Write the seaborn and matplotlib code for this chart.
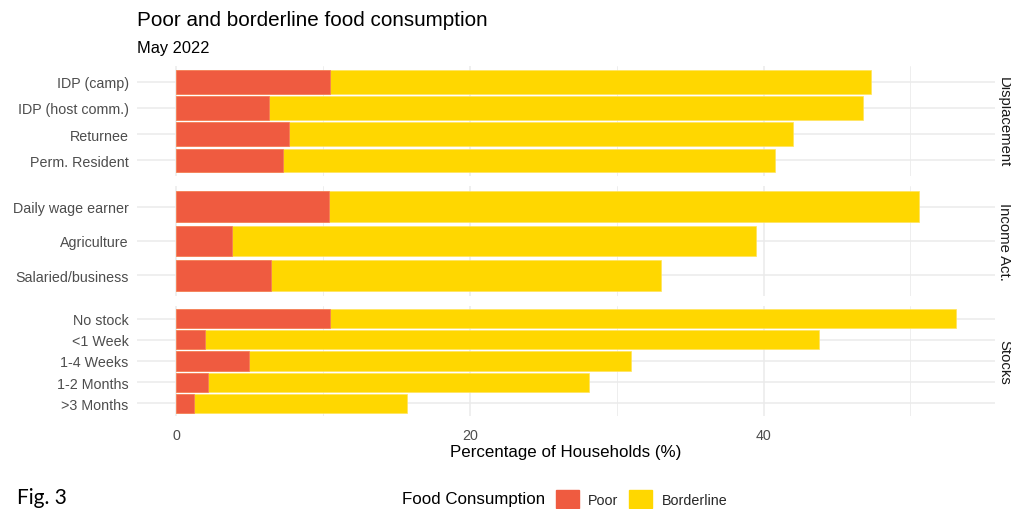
import matplotlib
matplotlib.use('Agg')
import matplotlib.pyplot as plt
import seaborn as sns
import pandas as pd
from matplotlib.patches import Patch

# data (percent of households)
groups = ['Displacement', 'Income Act.', 'Stocks']

displacement = ['IDP (camp)', 'IDP (host comm.)', 'Returnee', 'Perm. Resident']
poor_displacement = [10.5, 6.3, 7.7, 7.3]
border_displacement = [36.8, 40.5, 34.3, 33.5]

income = ['Daily wage earner', 'Agriculture', 'Salaried/business']
poor_income = [10.4, 3.8, 6.5]
border_income = [40.2, 35.7, 26.5]

stocks = ['No stock', '<1 Week', '1-4 Weeks', '1-2 Months', '>3 Months']
poor_stocks = [10.5, 2.0, 5.0, 2.2, 1.2]
border_stocks = [42.6, 41.8, 26.0, 25.9, 14.5]

poor_col = '#EF5B40'
border_col = '#FFD700'

frames = []
for g, cats, p, b in zip(groups, [displacement, income, stocks],
                         [poor_displacement, poor_income, poor_stocks],
                         [border_displacement, border_income, border_stocks]):
    frames.append(pd.DataFrame({'group': g, 'category': cats, 'poor': p, 'borderline': b}))
df = pd.concat(frames, ignore_index=True)
df['total'] = df['poor'] + df['borderline']

sns.set_style('white')
plt.rcParams['font.family'] = ['Liberation Sans', 'DejaVu Sans']

fig = plt.figure(figsize=(10.11, 5.10), dpi=100)
W, H = 1011, 510
left, right = 137 / W, 995 / W
panels = [(67, 177), (187, 297), (307, 417)]

xmax = df['total'].max()
pad = xmax * 0.05

axes = []
for (top, bot), g in zip(panels, groups):
    ax = fig.add_axes([left, 1 - bot / H, right - left, (bot - top) / H])
    sub = df[df['group'] == g]
    n = len(sub)
    sns.barplot(data=sub, x='total', y='category', color=border_col, width=0.9,
                saturation=1, errorbar=None, orient='h', ax=ax,
                edgecolor='#FFE45C', linewidth=0.5)
    sns.barplot(data=sub, x='poor', y='category', color=poor_col, width=0.9,
                saturation=1, errorbar=None, orient='h', ax=ax,
                edgecolor='#F47A64', linewidth=0.5)
    ax.set_xlim(-pad, xmax + pad)
    ax.set_ylim(n - 1 + 0.6, -0.6)
    ax.set_xticks([0, 20, 40])
    ax.set_xticks([10, 30, 50], minor=True)
    ax.set_axisbelow(True)
    ax.grid(True, which='major', color='#EBEBEB', linewidth=1.1)
    ax.grid(True, which='minor', axis='x', color='#EBEBEB', linewidth=0.6)
    for s in ax.spines.values():
        s.set_visible(False)
    ax.tick_params(axis='both', which='both', length=0, labelsize=10.3,
                   labelcolor='#4D4D4D')
    ax.tick_params(axis='y', pad=6)
    ax.tick_params(axis='x', pad=9)
    ax.set_xlabel('')
    ax.set_ylabel('')
    ax.text(1.0105, 0.5, g, transform=ax.transAxes, rotation=-90,
            ha='center', va='center', fontsize=10.7, color='#1A1A1A')
    axes.append(ax)

for ax in axes[:-1]:
    ax.tick_params(axis='x', labelbottom=False)

fig.text(566 / W, 1 - 453 / H, 'Percentage of Households (%)', ha='center',
         va='center', fontsize=12.2, color='black')
fig.text(137 / W, 1 - 21 / H, 'Poor and borderline food consumption',
         ha='left', va='center', fontsize=14.9, color='black')
fig.text(137 / W, 1 - 49 / H, 'May 2022', ha='left', va='center',
         fontsize=11.8, color='black')
fig.text(17 / W, 1 - 498 / H, 'Fig. 3', ha='left', va='center',
         fontsize=15, color='black', family=['Lato', 'DejaVu Sans'])

fig.text(402 / W, 1 - 500 / H, 'Food Consumption', ha='left', va='center',
         fontsize=12.2, color='black')
handles = [Patch(facecolor=poor_col, edgecolor=poor_col),
           Patch(facecolor=border_col, edgecolor=border_col)]
fig.legend(handles, ['Poor', 'Borderline'], loc='center left',
           bbox_to_anchor=(556 / W, 1 - 500 / H), ncol=2, frameon=False,
           handlelength=1.6, handleheight=1.6, handletextpad=0.65,
           columnspacing=0.75, fontsize=10.3, borderpad=0, borderaxespad=0)

fig.savefig('out.png', dpi=100)
